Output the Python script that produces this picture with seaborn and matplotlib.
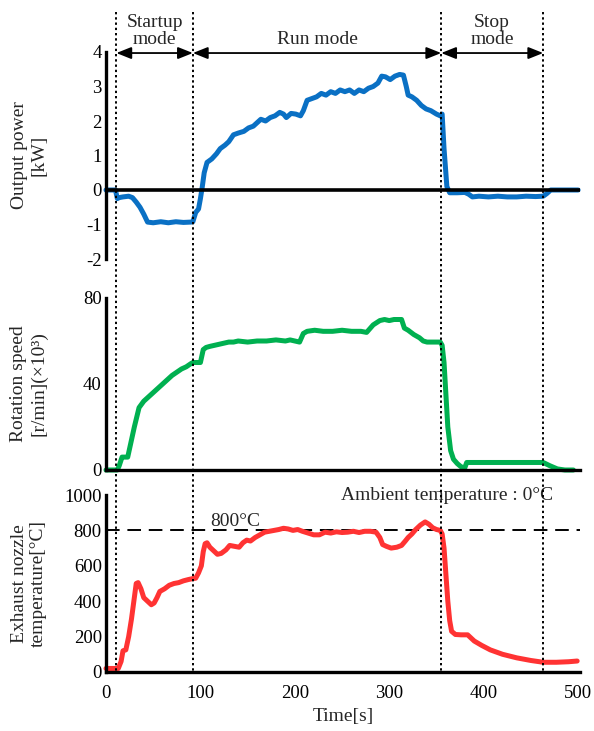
import matplotlib
matplotlib.use('Agg')
import matplotlib.pyplot as plt
import matplotlib.transforms as mtransforms
from matplotlib.lines import Line2D
import seaborn as sns
import pandas as pd

# ---------------- data ----------------
t_power = [0, 10, 12, 14, 18, 24, 28, 32, 36, 40, 44, 50, 58, 66, 74, 82, 90, 92, 95, 98,
           100, 102, 104, 107, 112, 117, 121, 126, 130, 135, 140, 146, 151, 156, 160, 164,
           169, 174, 179, 184, 188, 191, 196, 201, 206, 209, 213, 218, 223, 228, 233, 238,
           243, 248, 253, 258, 263, 268, 273, 278, 283, 288, 292, 296, 301, 306, 311, 315,
           318, 320, 324, 329, 334, 339, 344, 350, 354, 356, 358, 361, 364, 372, 380, 384,
           388, 395, 405, 415, 425, 435, 445, 455, 463, 467, 471, 480, 500]
power_kw = [0, 0, -0.25, -0.22, -0.2, -0.18, -0.22, -0.35, -0.5, -0.7, -0.93, -0.95, -0.92,
            -0.95, -0.92, -0.94, -0.93, -0.92, -0.65, -0.55, -0.25, 0.1, 0.5, 0.8, 0.9, 1.05,
            1.2, 1.3, 1.4, 1.6, 1.65, 1.7, 1.8, 1.85, 1.95, 2.05, 2.0, 2.1, 2.15, 2.25, 2.2,
            2.1, 2.22, 2.2, 2.15, 2.3, 2.6, 2.65, 2.7, 2.8, 2.75, 2.85, 2.8, 2.9, 2.85, 2.9,
            2.8, 2.9, 2.85, 2.95, 3.0, 3.1, 3.3, 3.28, 3.2, 3.3, 3.35, 3.33, 3.0, 2.75, 2.7,
            2.6, 2.45, 2.35, 2.3, 2.2, 2.15, 2.2, 1.2, 0.1, -0.08, -0.08, -0.07, -0.12, -0.2,
            -0.18, -0.2, -0.18, -0.2, -0.2, -0.18, -0.19, -0.18, -0.1, 0, 0, 0]

t_speed = [0, 12, 14, 17, 19, 23, 26, 30, 35, 40, 45, 50, 55, 60, 65, 70, 75, 80, 85, 90,
           92, 96, 100, 103, 106, 110, 115, 120, 125, 130, 135, 140, 150, 160, 170, 180, 190,
           195, 200, 205, 209, 213, 221, 230, 240, 250, 260, 270, 276, 283, 290, 295, 300,
           305, 310, 313, 316, 320, 326, 332, 336, 340, 345, 350, 354, 356, 358, 360, 362,
           365, 368, 372, 376, 380, 382, 384, 400, 420, 440, 463, 470, 478, 486, 495]
speed_k = [0, 0, 2, 6, 6, 6, 12, 20, 29, 32, 34, 36, 38, 40, 42, 44, 45.5, 47, 48, 49.5,
           50, 50, 50, 56, 57, 57.5, 58, 58.5, 59, 59.5, 59.5, 60, 59.5, 60, 60, 60.5, 60,
           60.5, 60, 59.5, 63.5, 64.5, 65, 64.5, 64.5, 65, 64.5, 64.5, 64, 67.5, 69.5, 70,
           69.5, 70, 70, 70, 66, 65, 63, 61.5, 60, 59.5, 59.5, 59.5, 59.5, 58, 50, 35, 20,
           9, 5, 3, 1.5, 1, 3.5, 3.5, 3.5, 3.5, 3.5, 3.5, 2, 0.5, 0, 0]

t_temp = [0, 13, 16, 18, 21, 24, 27, 30, 32, 34, 37, 40, 44, 48, 51, 54, 57, 62, 67, 72,
          77, 82, 87, 92, 95, 98, 101, 103, 105, 107, 110, 114, 118, 122, 127, 131, 136,
          141, 145, 149, 153, 158, 163, 168, 173, 178, 183, 188, 193, 198, 203, 208, 214,
          220, 226, 232, 238, 244, 250, 256, 262, 268, 274, 280, 286, 290, 293, 297, 302,
          308, 313, 317, 320, 324, 328, 333, 338, 342, 346, 350, 354, 356, 358, 360, 362,
          364, 366, 370, 376, 383, 386, 390, 398, 407, 420, 435, 450, 463, 477, 490, 499]
temp_c = [20, 20, 60, 120, 125, 200, 300, 420, 500, 505, 470, 420, 400, 380, 390, 420,
          455, 470, 490, 500, 505, 515, 522, 528, 530, 560, 600, 680, 725, 730, 705, 685,
          665, 670, 690, 715, 710, 705, 730, 745, 740, 760, 775, 790, 795, 800, 805, 812,
          808, 800, 805, 795, 785, 775, 775, 790, 785, 792, 788, 790, 795, 788, 795, 795,
          790, 760, 720, 710, 700, 705, 715, 740, 760, 780, 805, 830, 848, 835, 815, 805,
          800, 780, 700, 550, 400, 290, 230, 212, 210, 210, 195, 175, 150, 125, 100, 80,
          65, 55, 55, 58, 62]

mode_bounds = [11, 92, 355, 463]
mode_names = ["Startup\nmode", "Run mode", "Stop\nmode"]

power_ticks = [4, 3, 2, 1, 0, -1, -2]
speed_ticks = [0, 20, 40, 60, 80]
speed_ticklabels = ["0", "", "40", "", "80"]
temp_ticks = [0, 200, 400, 600, 800, 1000]
time_ticks = [0, 100, 200, 300, 400, 500]

# ---------------- style ----------------
sns.set_style('white')
plt.rcParams['font.family'] = ['Liberation Serif', 'DejaVu Serif']
plt.rcParams['axes.unicode_minus'] = False

BLUE = '#0A70C4'
GREEN = '#00B050'
RED = '#FF3333'
W, H = 594, 731

fig = plt.figure(figsize=(W / 100, H / 100), dpi=100)
left, width = 106 / W, 474 / W
ax1 = fig.add_axes([left, 1 - 259 / H, width, 207 / H])
ax2 = fig.add_axes([left, 1 - 470 / H, width, 172 / H], sharex=ax1)
ax3 = fig.add_axes([left, 1 - 672 / H, width, 177 / H], sharex=ax1)

df_p = pd.DataFrame({'t': t_power, 'v': power_kw})
df_s = pd.DataFrame({'t': t_speed, 'v': speed_k})
df_t = pd.DataFrame({'t': t_temp, 'v': temp_c})

sns.lineplot(data=df_p, x='t', y='v', ax=ax1, color=BLUE, lw=3.6, sort=False)
sns.lineplot(data=df_s, x='t', y='v', ax=ax2, color=GREEN, lw=3.6, sort=False)
sns.lineplot(data=df_t, x='t', y='v', ax=ax3, color=RED, lw=3.6, sort=False)

for ax in (ax1, ax2, ax3):
    ax.set_xlim(0, 502)
    for s in ('top', 'right'):
        ax.spines[s].set_visible(False)
    for s in ('left', 'bottom'):
        ax.spines[s].set_linewidth(2.4)
        ax.spines[s].set_color('black')
    ax.tick_params(axis='both', direction='in', length=4, width=2.2, labelsize=13.5,
                   color='black', labelcolor='black', pad=3)
    ax.set_xlabel('')
    ax.set_facecolor('none')
    for ln in ax.lines:
        ln.set_clip_on(False)

ax1.spines['bottom'].set_visible(False)
ax1.tick_params(axis='x', bottom=False, labelbottom=False)
ax2.tick_params(axis='x', bottom=False, labelbottom=False)

ax1.set_ylim(-2, 4)
ax1.set_yticks(power_ticks)
ax1.axhline(0, color='black', lw=2.6, zorder=4)

ax2.set_ylim(0, 80)
ax2.set_yticks(speed_ticks)
ax2.set_yticklabels(speed_ticklabels)

ax3.set_ylim(0, 1000)
ax3.set_yticks(temp_ticks)
ax3.set_xticks(time_ticks)
ax3.tick_params(axis='x', pad=9)
ax3.axhline(800, color='black', lw=1.4, ls=(0, (7, 4)), zorder=1)
ax3.set_xlabel('Time[s]', fontsize=14, labelpad=5)

ax1.set_ylabel('Output power\n[kW]', fontsize=14)
ax2.set_ylabel('Rotation speed\n[r/min](×10³)', fontsize=14)
ax3.set_ylabel('Exhaust nozzle\ntemperature[°C]', fontsize=14)
for ax in (ax1, ax2, ax3):
    ax.yaxis.set_label_coords(-0.124, 0.5)

ax3.text(361, 1000, 'Ambient temperature : 0°C', ha='center', va='center', fontsize=14)
ax3.text(137, 805, '800°C', ha='center', va='bottom', fontsize=14)

# vertical dotted mode boundaries across all panels
trans = mtransforms.blended_transform_factory(ax3.transData, fig.transFigure)
for b in mode_bounds:
    fig.add_artist(Line2D([b, b], [1 - 12 / H, 1 - 672 / H], transform=trans,
                          color='black', lw=1.4, ls=(0, (1.2, 1.5)), zorder=5))

# arrows and mode names
for i, name in enumerate(mode_names):
    a, b = mode_bounds[i], mode_bounds[i + 1]
    ax1.annotate('', xy=(b, 3.97), xytext=(a, 3.97), annotation_clip=False,
                 arrowprops=dict(arrowstyle='<|-|>,head_length=0.45,head_width=0.18',
                                 color='black', lw=1.3, shrinkA=0, shrinkB=0,
                                 mutation_scale=20))
    ax1.text((a + b) / 2, 4.13, name, ha='center', va='bottom', fontsize=14,
             linespacing=1.0, clip_on=False)

fig.savefig('out.png', dpi=100)
